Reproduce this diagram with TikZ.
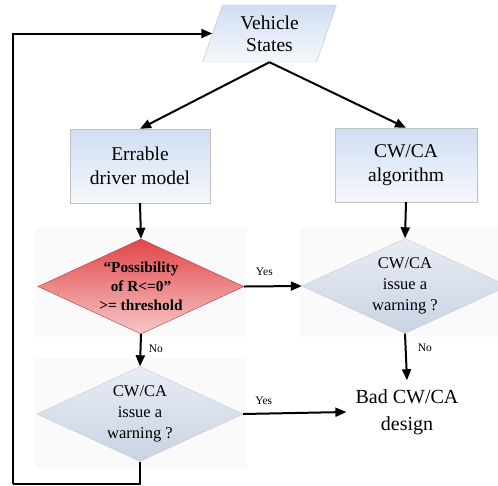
\documentclass[tikz,border=0pt]{standalone}
\usepackage{fontspec}
\setmainfont{Liberation Serif}
\usetikzlibrary{arrows.meta,positioning,shapes.geometric}

\definecolor{boxtop}{RGB}{208,222,243}
\definecolor{boxbot}{RGB}{246,248,252}
\definecolor{dectop}{RGB}{232,237,245}
\definecolor{decbot}{RGB}{200,211,228}
\definecolor{redtop}{RGB}{224,70,72}
\definecolor{redbot}{RGB}{248,200,200}
\definecolor{glow}{RGB}{251,250,250}

\tikzset{
	flow/.style={line width=2pt, -{Triangle[length=11pt,width=9pt]}},
	link/.style={line width=2pt},
	statebox/.style={trapezium, trapezium left angle=72, trapezium right angle=108,
		trapezium stretches=true, minimum width=135pt, minimum height=57pt,
		draw=black!25, top color=boxtop, bottom color=boxbot, align=center,
		font=\fontsize{19.5}{22}\selectfont},
	procbox/.style={rectangle, draw=black!25, top color=boxtop, bottom color=boxbot,
		minimum height=74pt, align=center, font=\fontsize{19.5}{24}\selectfont},
	decide/.style={diamond, aspect=2.2, inner sep=0pt, minimum width=206pt,
		minimum height=95pt, draw=black!20, top color=dectop, bottom color=decbot,
		align=center, font=\fontsize{16.5}{21}\selectfont},
	decred/.style={decide, draw=redtop!80!black, top color=redtop, bottom color=redbot,
		font=\bfseries\fontsize{15.3}{19}\selectfont},
	answer/.style={font=\fontsize{11.5}{13}\selectfont}
}

\begin{document}
\begin{tikzpicture}[x=1pt, y=-1pt]
	%%%%% START %%%%%
	\useasboundingbox (0, 0) rectangle (498, 485);
	
	% faint backdrops behind the decisions
	\fill[glow] (35, 228) rectangle (247, 337);
	\fill[glow] (300, 228) rectangle (498, 337);
	\fill[glow] (35, 358) rectangle (247, 468);
	
	\node[statebox] (vs) at (269.5, 33.5) {Vehicle\\States};
	
	\node[procbox, minimum width=140pt] (drv) at (140, 166) {Errable\\driver model};
	\node[procbox, minimum width=142pt] (alg) at (406, 165) {CW/CA\\algorithm};
	
	\node[decred] (risk) at (141, 286.5) {“Possibility\\of R<=0”\\>= threshold};
	\node[decide] (warnr) at (405, 286) {CW/CA\\issue a\\warning ?};
	\node[decide] (warnl) at (140, 414) {CW/CA\\issue a\\warning ?};
	
	\node[align=center, inner sep=9pt, font=\fontsize{20}{27}\selectfont] (bad) at (407, 412) {Bad CW/CA\\design};
	
	\coordinate (loopcorner) at (13, 484);
	
	\draw[flow] (vs.south) -- (drv.north);
	\draw[flow] (vs.south) -- (alg.north);
	\draw[flow] (drv.south) -- (risk.north);
	\draw[flow] (alg.south) -- (warnr.north);
	
	\draw[flow] (risk.east) -- node[answer, above=6pt, pos=0.35] (yes1) {Yes} (warnr.west);
	\draw[flow] (risk.south) -- node[answer, right=4pt, pos=0.45] (no1) {No} (warnl.north);
	\draw[flow] (warnr.south) -- node[answer, right=8pt, pos=0.3] (no2) {No} (bad.north);
	\draw[flow] (warnl.east) -- node[answer, above=5pt, pos=0.2] (yes2) {Yes} (bad.west);
	
	\draw[link] (warnl.south) |- (loopcorner);
	\draw[flow] (loopcorner) |- (vs.west);
	%%%%% END %%%%%
\end{tikzpicture}
\end{document}
